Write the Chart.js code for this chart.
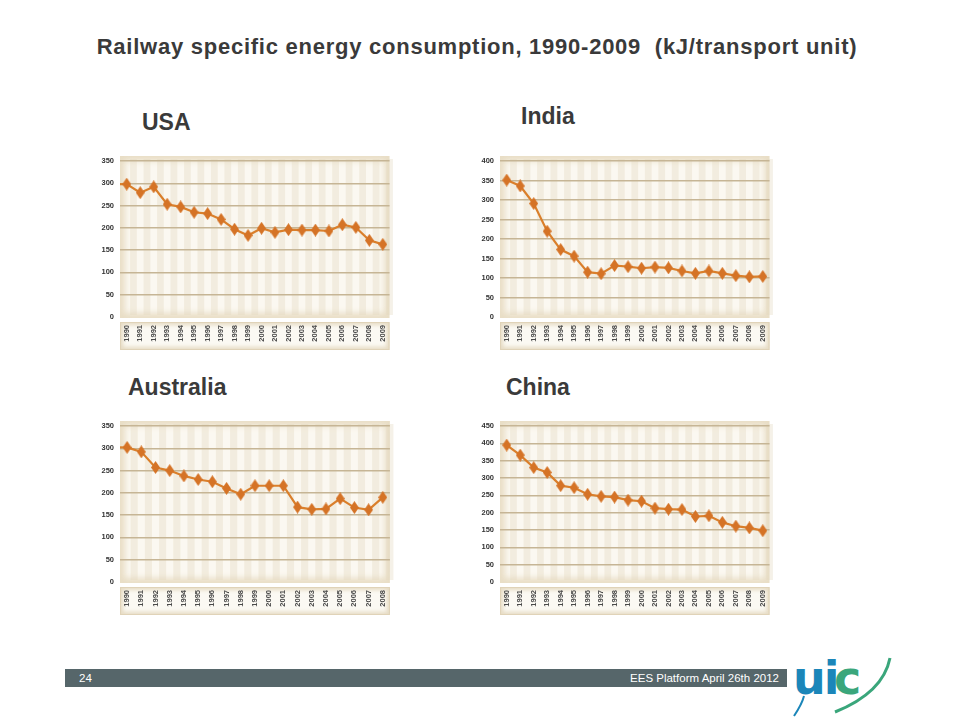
<!DOCTYPE html>
<html><head><meta charset="utf-8">
<script src="https://cdn.jsdelivr.net/npm/chart.js@4"></script>
<style>
body{margin:0;width:960px;height:720px;background:#fff;position:relative;overflow:hidden;font-family:"Liberation Sans",Arial,sans-serif;}
.t{position:absolute;font-weight:bold;color:#3a3a3a;white-space:nowrap;line-height:1;}
canvas{position:absolute;}
#bar{position:absolute;left:65px;top:669px;width:722px;height:18px;background:#56666a;}
.ft{position:absolute;color:#fff;font-size:11.5px;line-height:18px;top:0;font-family:"Liberation Sans Narrow","Liberation Sans",Arial,sans-serif;}
</style></head>
<body>
<div class="t" id="title" style="left:0;width:954px;text-align:center;top:36px;font-size:22px;letter-spacing:0.75px">Railway specific energy consumption, 1990-2009&nbsp; (kJ/transport unit)</div>
<div class="t" style="left:142px;top:111px;font-size:23px">USA</div>
<div class="t" style="left:521px;top:105px;font-size:23px">India</div>
<div class="t" style="left:128px;top:376px;font-size:23px">Australia</div>
<div class="t" style="left:506px;top:376px;font-size:23px">China</div>

<canvas id="cUSA" width="315" height="205" style="left:85px;top:150px"></canvas>
<canvas id="cIndia" width="315" height="205" style="left:465px;top:150px"></canvas>
<canvas id="cAus" width="315" height="205" style="left:85px;top:415px"></canvas>
<canvas id="cChina" width="315" height="205" style="left:465px;top:415px"></canvas>

<div id="bar"><span class="ft" style="left:14px">24</span><span class="ft" style="right:8px">EES Platform April 26th 2012</span></div>
<svg style="position:absolute;left:790px;top:650px" width="110" height="70">
  <text x="3" y="44" font-family="DejaVu Sans,Arial" font-weight="bold" font-size="46" fill="#1b86b9" letter-spacing="-2">ui</text>
  <text x="44" y="44" font-family="DejaVu Sans,Arial" font-weight="bold" font-size="46" fill="#3aa67b">c</text>
  <path d="M100 8 C 96 28, 80 48, 45 62" stroke="#3aa67b" stroke-width="3" fill="none"/>
  <path d="M14 46 C 12 54, 8 60, 4 66" stroke="#1b86b9" stroke-width="2" fill="none"/>
</svg>

<script>
const years20 = ['1990','1991','1992','1993','1994','1995','1996','1997','1998','1999','2000','2001','2002','2003','2004','2005','2006','2007','2008','2009'];
const years19 = ['1990','1991','1992','1993','1994','1995','1996','1997','1998','1999','2000','2001','2002','2003','2004','2005','2006','2007','2008'];
const usaValues   = [298,279,292,253,247,235,232,219,197,183,199,190,196,195,195,193,207,201,172,163];
const indiaValues = [351,336,291,220,173,156,115,111,132,129,125,128,126,118,112,118,112,106,103,104];
const ausValues   = [302,292,257,250,238,230,225,210,197,216,216,216,168,163,164,187,167,162,190];
const chinaValues = [395,366,330,316,278,272,253,247,245,236,233,213,210,209,189,191,172,161,156,148];
const usaYMax = 350, indiaYMax = 400, ausYMax = 350, chinaYMax = 450;
const yStep = 50;

const FONT = '"Liberation Sans", Arial, sans-serif';
const LINE = '#da7f2b';
const MARK = '#d57326';

function diamondImg(){
  const c=document.createElement('canvas'); c.width=9; c.height=13;
  const g=c.getContext('2d');
  g.beginPath(); g.moveTo(4.5,0); g.lineTo(9,6.5); g.lineTo(4.5,13); g.lineTo(0,6.5); g.closePath();
  g.fillStyle=MARK; g.fill();
  return c;
}
const DIAMOND = diamondImg();

function softBox(ctx,L,T,W,H,edge,inner,inset,blur){
  ctx.fillStyle=edge; ctx.fillRect(L,T,W,H);
  ctx.save();
  ctx.beginPath(); ctx.rect(L,T,W,H); ctx.clip();
  ctx.filter='blur('+blur+'px)';
  ctx.fillStyle=inner; ctx.fillRect(L+inset,T+inset,W-2*inset,H-2*inset);
  ctx.restore();
}

const bgPlugin = {
  id:'bgPanel',
  beforeDraw(chart){
    const {ctx, chartArea:a, scales:{x}} = chart;
    ctx.save();
    const L=a.left, R=a.right, T=a.top-5, B=a.bottom+1;
    softBox(ctx,L,T,R-L,B-T,'#e9dec6','#fbf8f1',5,3);
    const n = chart.data.labels.length;
    const step = (R-L)/n;
    ctx.fillStyle='rgba(226,214,188,0.35)';
    for(let i=0;i<n;i++){
      const cx = x.getPixelForValue(i);
      ctx.fillRect(cx+step*0.25, T+3, step*0.5, B-T-6);
    }
    const bt=a.bottom+5, bb=a.bottom+33;
    softBox(ctx,L,bt,R-L,bb-bt,'#e6dbc3','#fbf9f3',3,2);
    ctx.strokeStyle='#e0d3b8'; ctx.lineWidth=1; ctx.strokeRect(L+0.5,bt+0.5,R-L-1,bb-bt-1);
    ctx.restore();
  }
};

const leadInPlugin = {
  id:'leadIn',
  beforeDatasetsDraw(chart, args, opts){
    if(!opts.enabled) return;
    const p0 = chart.getDatasetMeta(0).data[0];
    const ctx = chart.ctx;
    ctx.save();
    ctx.strokeStyle=LINE; ctx.lineWidth=2.2;
    ctx.beginPath(); ctx.moveTo(chart.chartArea.left, p0.y); ctx.lineTo(p0.x, p0.y); ctx.stroke();
    ctx.restore();
  }
};

function make(id, labels, values, yMax, leadIn){
  new Chart(document.getElementById(id), {
    type:'line',
    data:{labels, datasets:[{data:values, borderColor:LINE, backgroundColor:MARK, borderWidth:2.2,
      pointStyle:DIAMOND, pointRadius:5, tension:0, fill:false}]},
    options:{
      responsive:false, animation:false, devicePixelRatio:1,
      layout:{padding:{left:0,right:8,top:11,bottom:0}},
      plugins:{legend:{display:false}, tooltip:{enabled:false}, leadIn:{enabled:leadIn}},
      scales:{
        x:{offset:true, grid:{display:false, drawTicks:false, tickLength:0}, border:{display:false},
           ticks:{minRotation:90, maxRotation:90, autoSkip:false, padding:8,
                  font:{size:7.5, weight:'bold', family:FONT}, color:'#4a4a4a'},
           afterFit(s){ s.height=38; }},
        y:{min:0, max:yMax,
           ticks:{stepSize:yStep, padding:6, font:{size:7.5, weight:'bold', family:FONT}, color:'#333'},
           grid:{color:(c)=> c.tick && c.tick.value===0 ? 'rgba(0,0,0,0)' : '#c6b595', lineWidth:1.5, drawTicks:false, tickLength:0},
           border:{display:false},
           afterFit(s){ s.width=35; }}
      }
    },
    plugins:[bgPlugin, leadInPlugin]
  });
}

make('cUSA', years20, usaValues, usaYMax, true);
make('cIndia', years20, indiaValues, indiaYMax, false);
make('cAus', years19, ausValues, ausYMax, true);
make('cChina', years20, chinaValues, chinaYMax, false);
</script>
</body></html>
